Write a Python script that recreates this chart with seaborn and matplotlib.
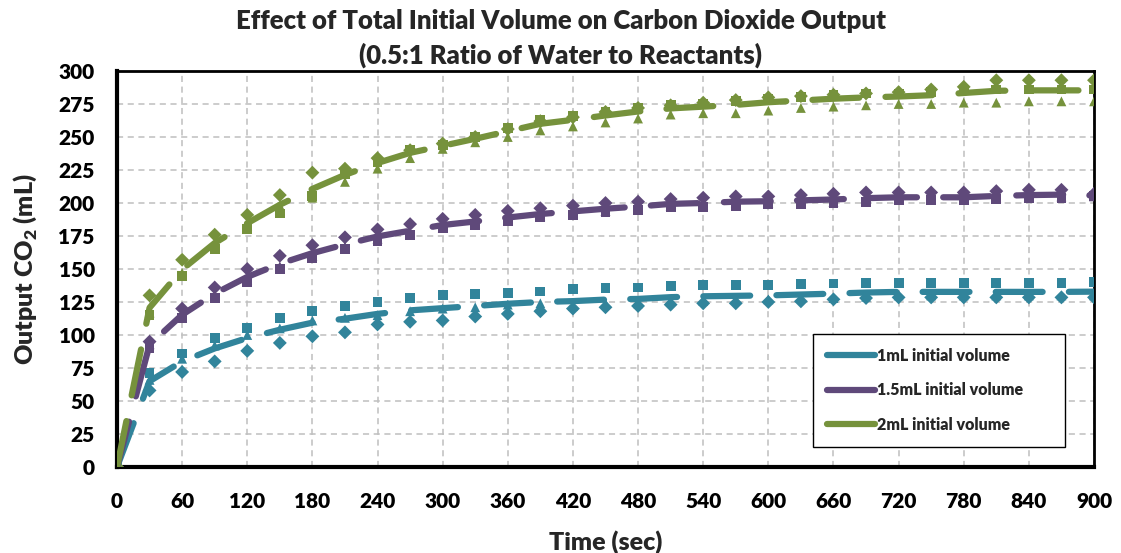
import numpy as np
import pandas as pd
import matplotlib
matplotlib.use("Agg")
import matplotlib.pyplot as plt
from matplotlib.lines import Line2D
import seaborn as sns

# ---------------- data ----------------
time_sec = [0, 30, 60, 90, 120, 150, 180, 210, 240, 270, 300, 330, 360, 390, 420,
            450, 480, 510, 540, 570, 600, 630, 660, 690, 720, 750, 780, 810, 840, 870, 900]

# 1 mL initial volume (three trials)
v1_trial1 = [0, 58, 72, 80, 88, 94, 99, 102, 108, 110, 111, 114, 116, 118, 120,
             121, 122, 123, 124, 124, 125, 125.5, 127, 128, 128.5, 128.5, 128.5, 128.5, 128.5, 128.5, 128.5]
v1_trial2 = [0, 71, 86, 97.5, 105, 113, 118, 122, 125, 128, 130, 131, 132, 133, 135,
             135.5, 136, 137, 138, 138, 138, 138.5, 139, 139.5, 139.5, 139.5, 139.5, 139.5, 139.5, 139.5, 140]
v1_trial3 = [0, 66, 82, 92, 100, 105, 111, 113, 115, 118, 120, 121, 123, 124, 122,
             124, 124, 126, 126, 127, 127, 128, 128, 129, 130, 130, 130, 130, 130, 130, 130]

# 1.5 mL initial volume (three trials)
v15_trial1 = [0, 95, 120, 136, 150, 160, 168, 174, 180, 184, 188, 191, 194, 196, 198,
              200, 201, 203, 204, 205, 205, 206, 207, 208, 208, 208, 208, 209, 210, 210, 207]
v15_trial2 = [0, 90, 113, 128, 140, 150, 158, 165, 171, 176, 181, 183, 186, 189, 191,
              193, 195, 197, 197, 198, 199, 199, 200, 201, 202, 202, 202, 203, 204, 204, 205]
v15_trial3 = [0, 93, 113, 130, 142, 152, 160, 167, 173, 177, 181, 184, 187, 190, 192,
              194, 196, 198, 199, 200, 200, 201, 201, 202, 203, 203, 203, 204, 204, 205, 205]

# 2 mL initial volume (three trials)
v2_trial1 = [0, 130, 157, 176, 191, 206, 223, 226, 234, 240, 245, 250, 256, 262, 265,
             269, 272, 274, 276, 278, 280, 281, 282, 283, 284, 286, 288, 293, 293, 293, 293]
v2_trial2 = [0, 115, 145, 165, 180, 192, 205, 222, 231, 240, 244, 250, 257, 263, 266,
             269, 272, 274, 275, 277, 279, 280, 282, 283, 283, 284, 286, 286, 286, 286, 286]
v2_trial3 = [0, 117, 147, 168, 183, 198, 204, 216, 226, 234, 241, 246, 250, 255, 258,
             261, 264, 267, 268, 268, 270, 272, 273, 274, 275, 275, 276, 276, 277, 277, 277]

series_labels = ["1mL initial volume", "1.5mL initial volume", "2mL initial volume"]
trial_names = ["Trial 1", "Trial 2", "Trial 3"]
x_ticks = list(range(0, 901, 60))
y_ticks = list(range(0, 301, 25))

# ---------------- long-form table ----------------
rows = []
for label, trials in zip(series_labels,
                         [(v1_trial1, v1_trial2, v1_trial3),
                          (v15_trial1, v15_trial2, v15_trial3),
                          (v2_trial1, v2_trial2, v2_trial3)]):
    for tname, vals in zip(trial_names, trials):
        for t, v in zip(time_sec, vals):
            rows.append({"time": t, "output": v, "volume": label, "trial": tname})
df = pd.DataFrame(rows)

# ---------------- style ----------------
sns.set_theme(style="white")
plt.rcParams["font.family"] = ["Lato", "DejaVu Sans"]
plt.rcParams["font.weight"] = "heavy"
plt.rcParams["mathtext.fontset"] = "custom"
plt.rcParams["mathtext.rm"] = "Lato:heavy"
plt.rcParams["mathtext.bf"] = "Lato:heavy"
W = "heavy"

colors = {"1mL initial volume": "#31849B",
          "1.5mL initial volume": "#5F497A",
          "2mL initial volume": "#76923C"}
markers = {"Trial 1": "D", "Trial 2": "s", "Trial 3": "^"}

fig = plt.figure(figsize=(11.21, 5.53), dpi=100)
ax = fig.add_axes([117/1121, 1 - 467/553, (1094 - 117)/1121, (467 - 71)/553])

# trial markers
sns.scatterplot(data=df, x="time", y="output", hue="volume", style="trial",
                palette=colors, markers=markers, s=50, linewidth=0,
                legend=False, ax=ax, zorder=3)

# average lines
sns.lineplot(data=df, x="time", y="output", hue="volume", palette=colors,
             estimator="mean", errorbar=None, linewidth=4.5, legend=False,
             ax=ax, zorder=4)
for ln in ax.lines:
    ln.set_dashes([7.5, 4.2])
    ln.set_dash_capstyle("round")
    ln.set_solid_capstyle("round")

ax.set_xlim(0, 900)
ax.set_ylim(0, 300)
ax.set_xticks(x_ticks)
ax.set_yticks(y_ticks)
ax.grid(True, color="#BFBFBF", linestyle=(0, (4, 3)), linewidth=1.1)
ax.set_axisbelow(True)

for side in ["left", "bottom"]:
    ax.spines[side].set_linewidth(3)
    ax.spines[side].set_color("black")
for side in ["top", "right"]:
    ax.spines[side].set_linewidth(2)
    ax.spines[side].set_color("black")

ax.tick_params(axis="both", direction="in", length=8, width=2.5, color="black",
               labelsize=15, labelcolor="black")
ax.tick_params(axis="y", pad=16)
ax.tick_params(axis="x", pad=18)
for lab in ax.get_xticklabels() + ax.get_yticklabels():
    lab.set_fontweight(W)

ax.set_xlabel("Time (sec)", fontsize=18, fontweight=W, labelpad=14)
ax.set_ylabel(r"Output CO$_\mathbf{2}$ (mL)", fontsize=18, fontweight=W, labelpad=14)

fig.text(0.5, 1 - 21/553, "Effect of Total Initial Volume on Carbon Dioxide Output",
         ha="center", va="center", fontsize=18.5, fontweight=W)
fig.text(0.5, 1 - 55/553, "(0.5:1 Ratio of Water to Reactants)",
         ha="center", va="center", fontsize=18.5, fontweight=W)

handles = [Line2D([0], [0], color=colors[l], lw=4.5, solid_capstyle="round") for l in series_labels]
leg_x0 = (813 - 117) / 977
leg_w = (1065 - 813) / 977
leg = ax.legend(handles, series_labels, loc="lower left",
                bbox_to_anchor=(leg_x0, (467 - 447)/396, leg_w, 0.27),
                mode="expand",
                frameon=True, fancybox=False, edgecolor="black", framealpha=1,
                prop={"size": 11.5, "weight": W}, handlelength=3.0,
                handletextpad=0.1, labelspacing=1.15, borderpad=0.9,
                borderaxespad=0)
leg.get_frame().set_linewidth(1)

fig.savefig("out.png", dpi=100)
